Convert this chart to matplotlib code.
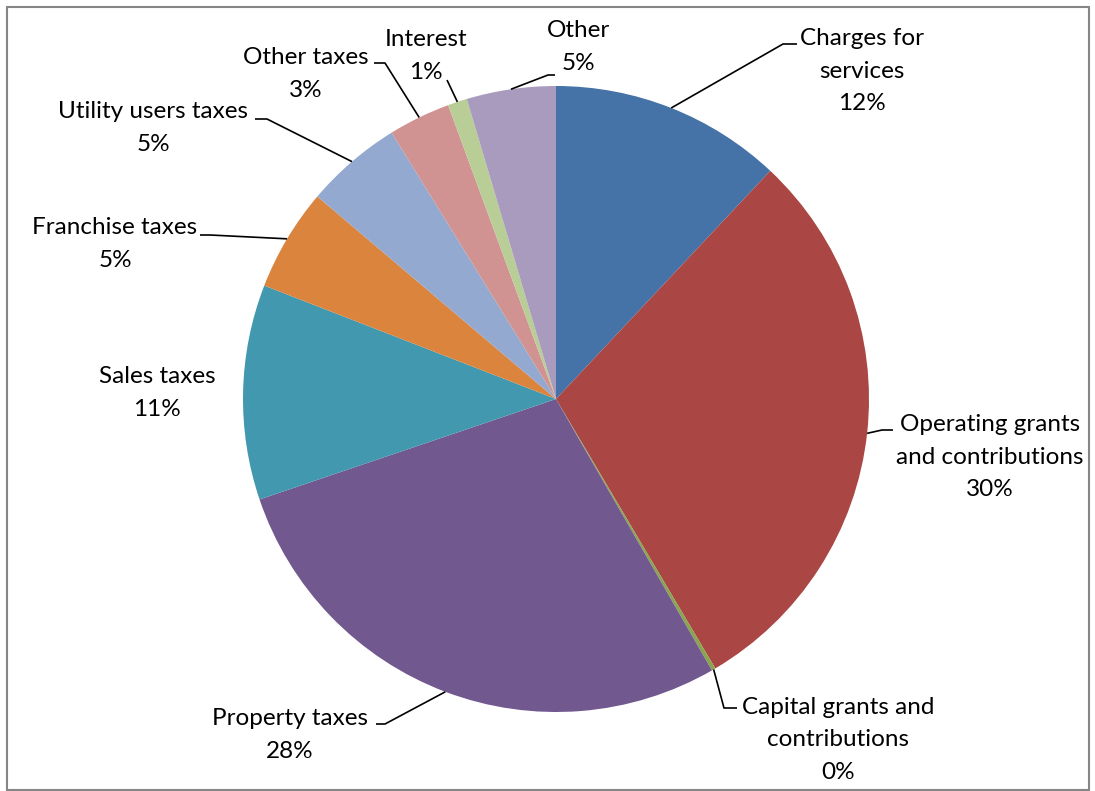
import numpy as np
import matplotlib
matplotlib.use("Agg")
import matplotlib.pyplot as plt
from matplotlib.patches import Rectangle

categories = ["Charges for\nservices", "Operating grants\nand contributions",
              "Capital grants and\ncontributions", "Property taxes", "Sales taxes",
              "Franchise taxes", "Utility users taxes", "Other taxes", "Interest", "Other"]
values = [12.0, 29.5, 0.2, 28.1, 11.1, 5.3, 5.0, 3.2, 1.0, 4.6]
pct_labels = ["12%", "30%", "0%", "28%", "11%", "5%", "5%", "3%", "1%", "5%"]
colors = ["#4572A7", "#AA4643", "#89A54E", "#71588F", "#4198AF",
          "#DB843D", "#93A9CF", "#D19392", "#B9CD96", "#A99BBD"]

W, H = 1095, 791
CX, CY, R = 556, 399, 313

def px(x, y):
    return ((x - CX) / R, (CY - y) / R)

# label layout in pixels: text centre, elbow point, end point (None = no leader)
layout = [
    ((862, 71), (783, 44), (797, 44)),
    ((990, 457), (882, 430), (893, 430)),
    ((838, 740), (724, 708), (737, 708)),
    ((290, 735), (385, 724), (376, 724)),
    ((157, 393), None, None),
    ((115, 244), (210, 235), (200, 235)),
    ((153, 128), (267, 119), (255, 119)),
    ((306, 74), (385, 63), (374, 63)),
    ((426, 56), (447, 80), (447, 80)),
    ((578, 47), (548, 75), (555, 75)),
]

plt.rcParams['font.family'] = ['Lato', 'DejaVu Sans']
fig = plt.figure(figsize=(W / 100, H / 100), dpi=100)
ax = fig.add_axes([0, 0, 1, 1])
wedges, _ = ax.pie(values, colors=colors, startangle=90, counterclock=False,
                   radius=1.0, center=(0, 0))
ax.set_xlim(-CX / R, (W - CX) / R)
ax.set_ylim(-(H - CY) / R, CY / R)
ax.set_aspect('auto')
ax.axis('off')

total = sum(values)
cum = 0.0
for i, v in enumerate(values):
    mid = (cum + v / 2) / total * 360.0
    cum += v
    theta = np.deg2rad(90 - mid)
    sx, sy = np.cos(theta), np.sin(theta)
    (tx, ty), elbow, end = layout[i]
    if elbow is not None:
        ex, ey = px(*elbow)
        fx, fy = px(*end)
        ax.plot([sx, ex, fx], [sy, ey, fy], color='black', lw=1.2, solid_capstyle='butt')
    lx, ly = px(tx, ty)
    ax.text(lx, ly, categories[i] + "\n" + pct_labels[i], ha='center', va='center',
            fontsize=17.5, linespacing=1.65, color='black')

fig.patches.append(Rectangle((6.5 / W, 1 - 790 / H), (1089 - 6.5) / W, (790 - 6.5) / H,
                             transform=fig.transFigure, fill=False,
                             edgecolor='#868686', lw=1.5))
fig.savefig("out.png", dpi=100, facecolor='white')
